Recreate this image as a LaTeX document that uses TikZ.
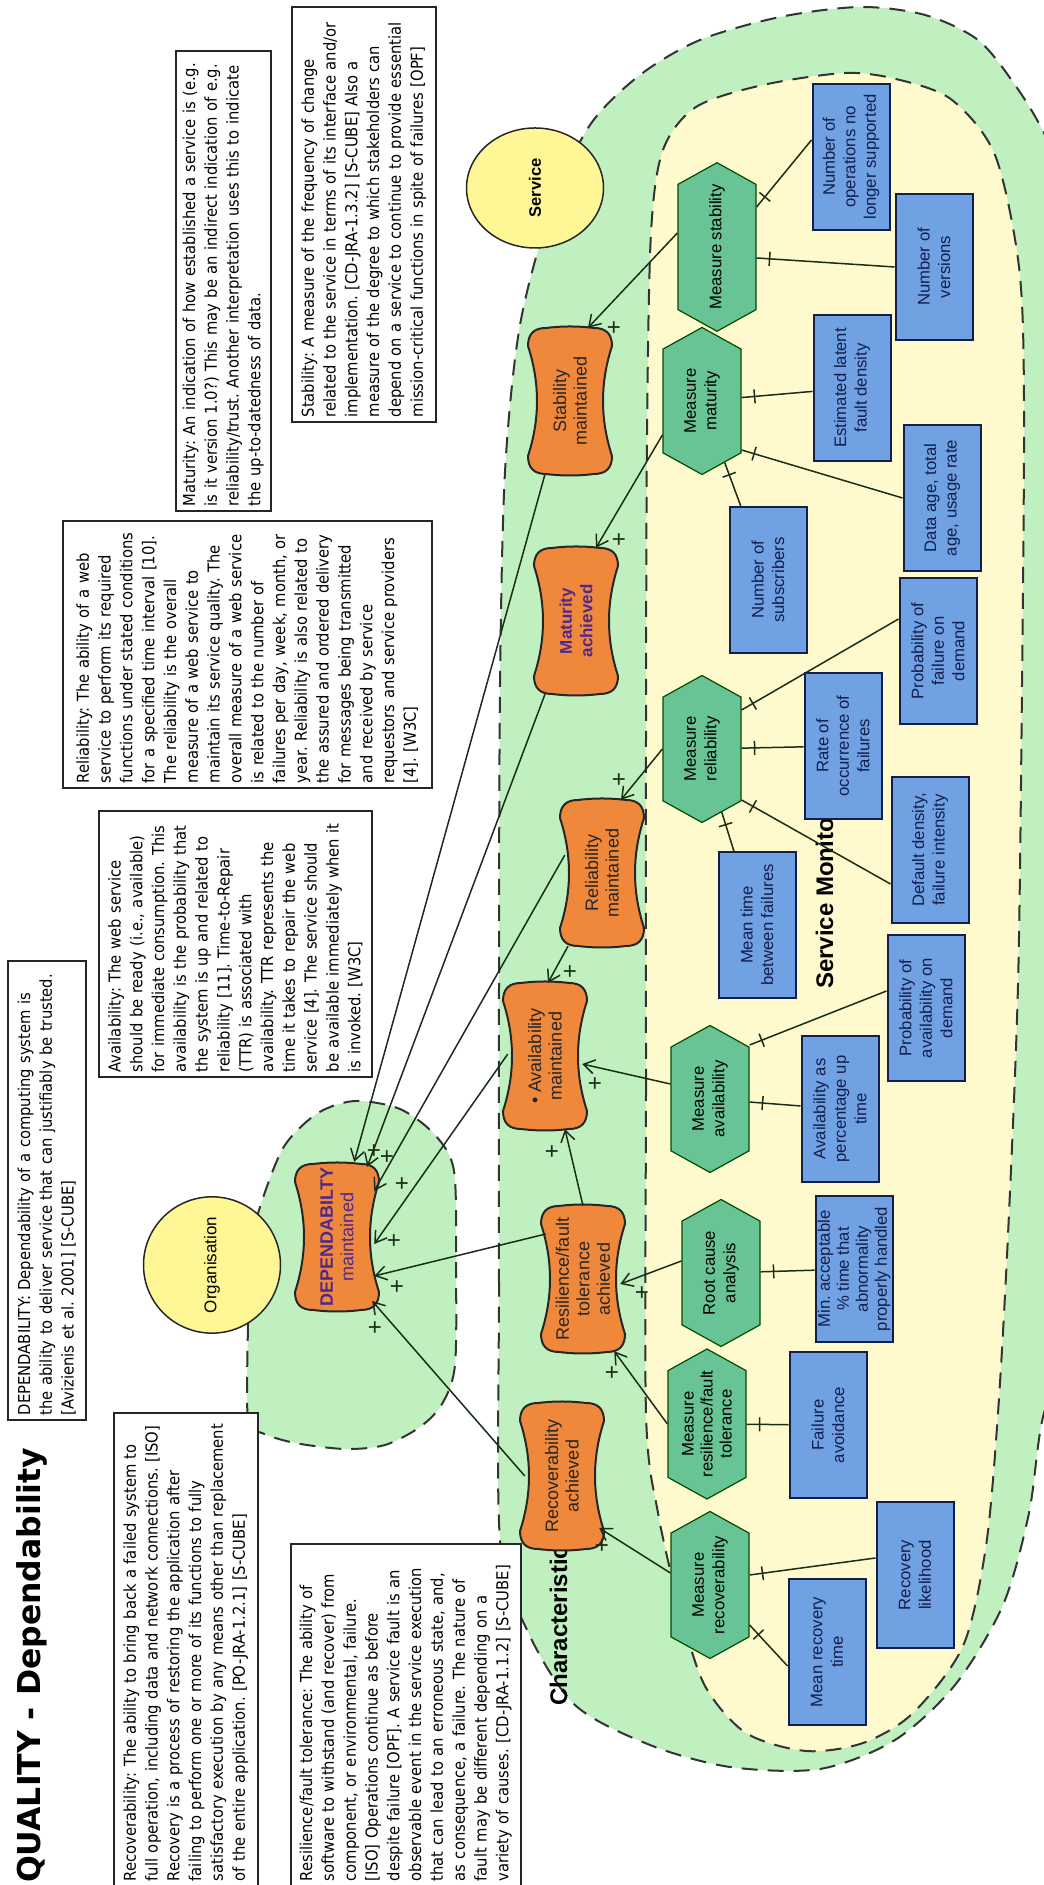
\documentclass[tikz,border=0pt]{standalone}
\usepackage{fontspec}
\setmainfont{Liberation Sans}
\newfontfamily\notefont{DejaVu Sans}[FakeStretch=0.9]
\newfontfamily\titlefont{DejaVu Sans}
\frenchspacing
\usetikzlibrary{arrows.meta,shapes.geometric,shapes.symbols,positioning,calc,decorations.markings}

\definecolor{regiongreen}{RGB}{192,240,192}
\definecolor{regionyellow}{RGB}{255,250,205}
\definecolor{goalorange}{RGB}{240,136,60}
\definecolor{measuregreen}{RGB}{104,196,148}
\definecolor{metricblue}{RGB}{111,161,227}
\definecolor{actoryellow}{RGB}{255,246,150}
\definecolor{linkgreen}{RGB}{25,45,25}
\definecolor{goalpurple}{RGB}{80,40,140}
\definecolor{metricnavy}{RGB}{20,30,75}

% orange goal blob: outline first, then the named node on top
\newcommand{\goal}[4][]{%
  \filldraw[goalshape, shift={#3}] (-55,-42) .. controls (-18,-30) and (18,-30) .. (55,-42)
    .. controls (67,-42) and (73,-36) .. (73,-24) .. controls (75,-8) and (75,8) .. (73,24)
    .. controls (73,36) and (67,42) .. (55,42) .. controls (18,30) and (-18,30) .. (-55,42)
    .. controls (-67,42) and (-73,36) .. (-73,24) .. controls (-75,8) and (-75,-8) .. (-73,-24)
    .. controls (-73,-36) and (-67,-42) .. (-55,-42) -- cycle;
  \node[goal, #1] (#2) at #3 {#4};}

\begin{document}
\begin{tikzpicture}[x=1pt, y=-1pt, rotate=90, transform shape,
    region/.style={dash pattern=on 16pt off 10pt, line width=2pt, draw=black!80},
    goalshape/.style={fill=goalorange, draw=black!85, line width=2pt},
    goal/.style={minimum width=146pt, minimum height=74pt, inner sep=0pt, align=center, font=\fontsize{18}{20.5}\selectfont, text=black!85},
    measure/.style={signal, signal to=east and west, signal pointer angle=122, draw=green!30!black, line width=1.2pt, fill=measuregreen, minimum width=147pt, minimum height=78pt, inner sep=0pt, align=center, font=\fontsize{16.7}{20.5}\selectfont},
    metric/.style={draw=metricnavy, line width=2pt, fill=metricblue, minimum width=146pt, minimum height=77pt, inner sep=0pt, align=center, font=\fontsize{16.7}{20.5}\selectfont, text=metricnavy},
    actor/.style={ellipse, draw=black!85, line width=1.5pt, fill=actoryellow, inner sep=0pt, font=\fontsize{17}{20}\selectfont},
    note/.style={draw=black!85, line width=1.5pt, fill=white, anchor=north west, align=left, inner xsep=5pt, inner ysep=0pt, font=\notefont\fontsize{16.4}{21.8}\selectfont},
    lbl/.style={anchor=base west, inner sep=0pt, font=\bfseries\fontsize{24}{28}\selectfont},
    arr/.style={-{Straight Barb[length=11pt, width=14pt]}, line width=1.5pt, draw=linkgreen},
    link/.style={line width=1.5pt, draw=linkgreen, postaction={decorate}, decoration={markings, mark=at position -13pt with {\draw[linkgreen, line width=1.5pt] (0,-7pt) -- (0,7pt);}}},
    plus/.style={font=\fontsize{24}{24}\selectfont, inner sep=0pt, text=linkgreen}
]
\useasboundingbox (0,0) rectangle (1885,1044);
\clip (0,0) rectangle (1885,1044);

% regions
\filldraw[region, fill=regiongreen] plot[smooth cycle, tension=0.5] coordinates {
  (345,500) (600,499) (900,499) (1200,500) (1413,505) (1560,520) (1680,552) (1760,590)
  (1810,640) (1845,700) (1868,780) (1878,860) (1870,925) (1845,978) (1800,1015) (1750,1045)
  (1650,1090) (1400,1120) (900,1120) (560,1080) (472,1044) (372,1029) (280,1003) (200,955)
  (145,895) (116,820) (118,730) (140,650) (180,575) (255,527)};
\filldraw[region, fill=regiongreen] plot[smooth cycle, tension=0.5] coordinates {
  (465,248) (560,248) (640,251) (690,264) (740,285) (772,318) (784,355) (776,400) (750,435)
  (714,454) (620,456) (520,455) (481,442) (458,420) (440,385) (436,345) (442,295) (452,262)};
\filldraw[region, fill=regionyellow] plot[smooth cycle, tension=0.5] coordinates {
  (472,646) (800,646) (1150,646) (1450,647) (1652,651) (1735,663) (1778,696) (1800,763)
  (1812,846) (1805,900) (1785,952) (1730,995) (1618,1019) (1485,1024) (1200,1022) (900,1018)
  (650,1008) (472,998) (339,986) (239,963) (172,913) (142,863) (134,806) (152,746) (199,705)
  (272,681) (372,658)};

\node[lbl] (charlbl) at (179,567) {Characteristic};
\node[lbl] (monlbl) at (896,833) {Service Monitor};
\node[anchor=base west, inner sep=0pt, font=\titlefont\bfseries\fontsize{31.5}{36}\selectfont] (title) at (2,40) {QUALITY - Dependability};

% definitions
\node[note, text width=449pt, minimum height=78pt] (depnote) at (464,7) {DEPENDABILITY: Dependability of a computing system is\\
the ability to deliver service that can justifiably be trusted.\\{}
[Avizienis et al. 2001] [S-CUBE]};
\node[note, text width=463pt, minimum height=144pt] (recnote) at (-2,113) {Recoverability: The ability to bring back a failed system to\\
full operation, including data and network connections. [ISO]\\
Recovery is a process of restoring the application after\\
failing to perform one or more of its functions to fully\\
satisfactory execution by any means other than replacement\\
of the entire application. [PO-JRA-1.2.1] [S-CUBE]};
\node[note, text width=332pt, minimum height=230pt] (resnote) at (-2,290) {Resilience/fault tolerance: The ability of\\
software to withstand (and recover) from\\
component, or environmental, failure.\\{}
[ISO] Operations continue as before\\
despite failure [OPF]. A service fault is an\\
observable event in the service execution\\
that can lead to an erroneous state, and,\\
as consequence, a failure. The nature of\\
fault may be different depending on a\\
variety of causes. [CD-JRA-1.1.2] [S-CUBE]};
\node[note, text width=256pt, minimum height=273pt] (availnote) at (807,98) {Availability: The web service\\
should be ready (i.e., available)\\
for immediate consumption. This\\
availability is the probability that\\
the system is up and related to\\
reliability [11]. Time-to-Repair\\
(TTR) is associated with\\
availability. TTR represents the\\
time it takes to repair the web\\
service [4]. The service should\\
be available immediately when it\\
is invoked. [W3C]};
\node[note, text width=257pt, minimum height=369pt] (relnote) at (1096,62) {Reliability: The ability of a web\\
service to perform its required\\
functions under stated conditions\\
for a specified time interval [10].\\
The reliability is the overall\\
measure of a web service to\\
maintain its service quality. The\\
overall measure of a web service\\
is related to the number of\\
failures per day, week, month, or\\
year. Reliability is also related to\\
the assured and ordered delivery\\
for messages being transmitted\\
and received by service\\
requestors and service providers\\{}
[4]. [W3C]};
\node[note, text width=450pt, minimum height=95pt] (matnote) at (1373,175) {Maturity: An indication of how established a service is (e.g.\\
is it version 1.0?) This may be an indirect indication of e.g.\\
reliability/trust. Another interpretation uses this to indicate\\
the up-to-datedness of data.};
\node[note, text width=405pt, minimum height=144pt] (stabnote) at (1462,291) {Stability: A measure of the frequency of change\\
related to the service in terms of its interface and/or\\
implementation. [CD-JRA-1.3.2] [S-CUBE] Also a\\
measure of the degree to which stakeholders can\\
depend on a service to continue to provide essential\\
mission-critical functions in spite of failures [OPF]};

\node[actor, minimum width=117pt, minimum height=137pt] (org) at (620,212) {Organisation};
\node[actor, minimum width=120pt, minimum height=137pt, font=\bfseries\fontsize{16.5}{20}\selectfont] (svc) at (1697,535) {Service};

% goals
\goal{stab}{(1484,570)}{Stability\\maintained}
\goal[text=goalpurple, font=\bfseries\fontsize{17}{20.5}\selectfont]{mat}{(1264,576)}{Maturity\\achieved}
\goal{rel}{(1012,602)}{Reliability\\maintained}
\goal{avail}{(829,545)}{\textbullet\ Availability\\maintained}
\goal{res}{(606,583)}{Resilience/fault\\tolerance\\achieved}
\goal{rec}{(409,562)}{Recoverability\\achieved}
\goal[text=goalpurple]{dep}{(648,337)}{\textbf{DEPENDABILTY}\\maintained}

% measures
\node[measure] (mstab) at (1638,717) {Measure stability};
\node[measure] (mmat) at (1484,702) {Measure\\maturity};
\node[measure] (mrel) at (1136,702) {Measure\\reliability};
\node[measure] (mavail) at (786,710) {Measure\\availability};
\node[measure] (rca) at (612,721) {Root cause\\analysis};
\node[measure, font=\fontsize{16.7}{19}\selectfont] (mres) at (461,707) {Measure\\resilience/fault\\tolerance};
\node[measure] (mrec) at (300,710) {Measure\\recoverability};

% metrics
\node[metric] (ops) at (1728,851) {Number of\\operations no\\longer supported};
\node[metric] (vers) at (1618,934) {Number of\\versions};
\node[metric] (latent) at (1497,852) {Estimated latent\\fault density};
\node[metric] (dage) at (1387,942) {Data age, total\\age, usage rate};
\node[metric] (subs) at (1305,768) {Number of\\subscribers};
\node[metric] (pfod) at (1234,938) {Probability of\\failure on\\demand};
\node[metric] (rocof) at (1139,843) {Rate of\\occurrence of\\failures};
\node[metric] (ddens) at (1035,930) {Default density,\\failure intensity};
\node[metric] (mtbf) at (960,757) {Mean time\\between failures};
\node[metric] (pavail) at (877,926) {Probability of\\availability on\\demand};
\node[metric] (uptime) at (776,840) {Availability as\\percentage up\\time};
\node[metric, font=\fontsize{16.7}{19}\selectfont] (minacc) at (616,854) {Min. acceptable\\\% time that\\abnormality\\properly handled};
\node[metric] (favoid) at (460,828) {Failure\\avoidance};
\node[metric] (rlike) at (310,915) {Recovery\\likelihood};
\node[metric] (mrt) at (233,827) {Mean recovery\\time};

% measure -> goal
\draw[arr] ($(mstab.north)+(14,0)$) -- ($(stab.east)+(0,18)$);
\draw[arr] ($(mmat.north)+(-34,0)$) -- ($(mat.east)+(0,20)$);
\draw[arr] (mrel.north) -- ($(rel.east)+(0,19)$);
\draw[arr] ($(mavail.north)+(15,0)$) -- ($(avail.south)+(-8,0)$);
\draw[arr] ($(rca.north)+(12,0)$) -- ($(res.south)+(-5,0)$);
\draw[arr] (mres.north) -- ($(res.south west)+(1,-6)$);
\draw[arr] ($(mrec.north)+(12,0)$) -- ($(rec.south)+(-52,0)$);
\draw[arr] ($(rel.west)+(0,-34)$) -- ($(avail.east)+(0,3)$);
\draw[arr] (res.east) -- ($(avail.west)+(0,20)$);

% goal -> dependability
\draw[arr] ($(stab.west)+(0,-25)$) -- ($(dep.south east)+(2,-20)$);
\draw[arr] ($(mat.west)+(0,-31)$) -- ($(dep.south east)+(-3,-7)$);
\draw[arr] ($(rel.north)+(18,0)$) -- ($(dep.south)+(46,0)$);
\draw[arr] ($(avail.north)+(2,0)$) -- ($(dep.south)+(-7,0)$);
\draw[arr] ($(res.north)+(45,0)$) -- ($(dep.south)+(-39,0)$);
\draw[arr] (rec.north) -- ($(dep.south)+(-64,-2)$);

% metric -> measure
\draw[link] ($(ops.north)+(17,0)$) -- ($(mstab.south)+(40,0)$);
\draw[link] (vers.north) -- ($(mstab.south)+(-11,0)$);
\draw[link] (latent) -- (mmat);
\draw[link] (dage.north) -- ($(mmat.south)+(-49,0)$);
\draw[link] (subs) -- (mmat);
\draw[link] ($(pfod.north)+(32,0)$) -- ($(mrel.south)+(39,0)$);
\draw[link] (rocof) -- (mrel);
\draw[link] ($(ddens.north)+(-34,0)$) -- ($(mrel.south)+(-51,0)$);
\draw[link] (mtbf) -- (mrel);
\draw[link] ($(pavail.north)+(17,0)$) -- ($(mavail.south)+(54,0)$);
\draw[link] (uptime) -- (mavail);
\draw[link] (minacc) -- (rca);
\draw[link] (favoid) -- (mres);
\draw[link] ($(rlike.north)+(17,0)$) -- ($(mrec.south)+(10,0)$);
\draw[link] ($(mrt.north)+(-14,0)$) -- ($(mrec.south)+(-40,0)$);

% contributions
\node[plus] (p1) at (1557,615) {+};
\node[plus] (p2) at (1345,620) {+};
\node[plus] (p3) at (1105,620) {+};
\node[plus] (p4) at (913,571) {+};
\node[plus] (p5) at (801,596) {+};
\node[plus] (p6) at (733,553) {+};
\node[plus] (p7) at (593,643) {+};
\node[plus] (p8) at (513,613) {+};
\node[plus] (p9) at (340,603) {+};
\node[plus] (p10) at (734,375) {+};
\node[plus] (p11) at (728,388) {+};
\node[plus] (p12) at (701,403) {+};
\node[plus] (p13) at (644,395) {+};
\node[plus] (p14) at (599,398) {+};
\node[plus] (p15) at (558,376) {+};
\end{tikzpicture}
\end{document}
